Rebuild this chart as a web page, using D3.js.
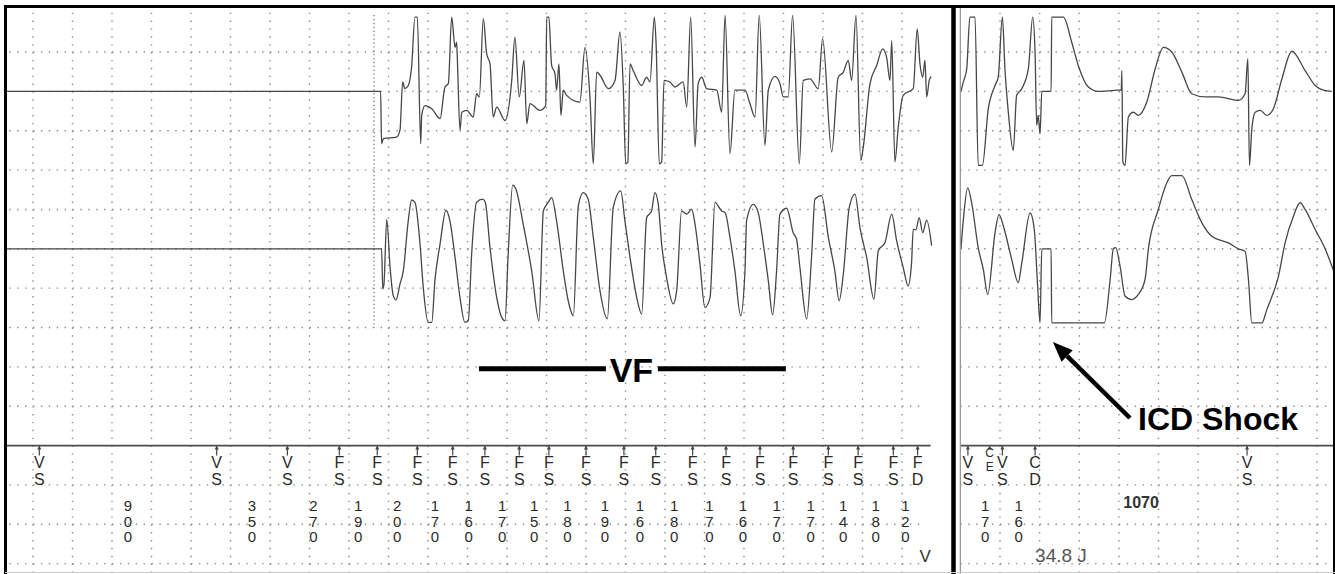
<!DOCTYPE html>
<html>
<head>
<meta charset="utf-8">
<script src="https://d3js.org/d3.v7.min.js"></script>
<style>
  body { margin: 0; background: #fff; }
  svg { display: block; }
  text { font-family: "Liberation Sans", Arial, sans-serif; }
</style>
</head>
<body>
<div id="strip"></div>
<script>
// ---- data: time in ms, amplitude in grid divisions (up = +) ----
var leftTop = [[-142,0],[1760,0],[1765,-1.33],[1774,-1.2],[1841,-1.16],[1858,-0.99],[1872,0.24],[1883,0.07],[1900,0.15],[1917,0.62],[1934,1.89],[1946,1.89],[1963,-1.33],[1968,-0.61],[1985,-0.36],[2019,-0.44],[2061,-0.69],[2086,0.11],[2103,0.2],[2120,1.89],[2137,1.12],[2145,1.25],[2148,0.91],[2162,-0.99],[2171,-0.53],[2196,-0.48],[2229,-0.65],[2246,-0.06],[2260,-0.14],[2280,1.85],[2297,0.96],[2314,0.7],[2330,-0.65],[2348,-0.4],[2390,-0.74],[2424,0.28],[2440,1.38],[2462,-0.14],[2486,0.79],[2500,-0.82],[2516,-0.31],[2567,-0.48],[2596,-0.36],[2601,1.89],[2612,1.89],[2626,0.66],[2643,0.45],[2651,0.03],[2663,0.7],[2673,-0.61],[2685,0.03],[2702,-0.1],[2769,-0.27],[2795,1.12],[2820,-0.14],[2837,-1.84],[2854,0.49],[2871,0.41],[2913,0.07],[2947,0.28],[2972,1.51],[2989,0.07],[3001,-1.84],[3012,-1.8],[3023,0.7],[3039,0.53],[3082,0.15],[3107,0.36],[3124,0.24],[3146,1.89],[3155,1.2],[3171,-1.84],[3183,-1.79],[3195,0.28],[3225,0.24],[3250,0.11],[3292,0.24],[3310,-0.4],[3330,1.89],[3352,-1.41],[3368,0.2],[3386,0.36],[3411,0.07],[3462,0.03],[3487,-0.53],[3504,1.93],[3529,-1.58],[3554,0.03],[3605,0.03],[3630,-0.31],[3656,-0.65],[3677,1.93],[3706,-1.37],[3723,0.03],[3757,0.38],[3782,0.2],[3799,-0.14],[3824,-0.14],[3846,1.93],[3880,-1.84],[3900,0.28],[3934,0.32],[3976,0.07],[3998,1.34],[4044,-1.54],[4077,0.36],[4103,0.49],[4128,0.79],[4145,0.28],[4167,1.93],[4191,-1.75],[4204,-1.41],[4238,0.2],[4272,0.66],[4302,1.08],[4322,0.87],[4339,0.28],[4348,1.29],[4364,-1.79],[4381,-0.91],[4406,-0.1],[4457,0.07],[4477,1.59],[4491,0.7],[4505,0.36],[4516,0.79],[4525,-0.14],[4538,0.28],[4547,0.38]];

var leftBottom = [[-142,0],[1765,0],[1771,-1.02],[1777,-0.9],[1791,0.75],[1808,-0.47],[1824,-1.19],[1838,-1.3],[1858,-0.9],[1875,-0.56],[1900,0.71],[1917,1.24],[1934,1.18],[1959,0.16],[1976,-0.98],[2001,-1.87],[2019,-1.87],[2035,-0.81],[2061,0.12],[2091,0.98],[2111,0.71],[2137,-0.22],[2162,-1.24],[2187,-1.87],[2204,-1.83],[2221,-0.13],[2246,1.18],[2277,1.26],[2290,1.18],[2314,0.03],[2348,-1.24],[2373,-1.74],[2390,-1.83],[2406,-0.13],[2429,1.62],[2445,1.52],[2482,0.63],[2525,-0.56],[2562,-1.83],[2584,0.96],[2609,1.18],[2626,1.3],[2651,0.71],[2685,-0.56],[2710,-1.32],[2736,-1.7],[2761,1.09],[2786,1.43],[2811,1.26],[2837,0.29],[2871,-1.07],[2908,-1.78],[2938,1.05],[2976,1.47],[2997,0.71],[3023,-0.22],[3057,-1.24],[3082,-1.66],[3107,0.79],[3132,0.96],[3149,1.43],[3166,1.13],[3183,0.12],[3208,-0.73],[3242,-1.4],[3259,-1.07],[3284,0.96],[3310,0.88],[3335,1.01],[3352,0.63],[3377,-0.39],[3402,-1.49],[3428,-1.24],[3453,1.18],[3487,0.96],[3504,0.92],[3529,0.29],[3554,-0.56],[3583,-1.7],[3605,-0.56],[3613,0.71],[3647,1.13],[3672,0.92],[3698,0.12],[3723,-0.81],[3745,-1.68],[3765,-0.56],[3782,0.88],[3816,1.03],[3849,0.41],[3866,0.25],[3883,-0.47],[3917,-1.78],[3943,-0.13],[3959,1.26],[3993,1.35],[4027,0.29],[4060,-0.56],[4082,-1.32],[4103,-0.64],[4133,1.05],[4162,1.39],[4187,0.54],[4221,-0.22],[4258,-1.28],[4280,-0.05],[4314,0.16],[4348,0.88],[4373,0.2],[4406,-0.47],[4431,-0.94],[4448,-0.39],[4457,0.5],[4470,0.48],[4487,0.79],[4505,0.41],[4525,0.73],[4550,0.08]];

var rightTop = [[-197,0],[-185,0.24],[-168,0.57],[-152,1.89],[-126,1.89],[-110,-1.88],[-89,-1.88],[-59,-0.44],[-25,0.15],[-9,0.36],[12,1.89],[25,0.57],[42,-0.53],[67,-1.5],[84,-0.1],[110,0.07],[143,0.57],[165,1.89],[177,1.0],[185,-0.86],[193,-0.61],[202,-1.08],[211,0],[258,0],[261,1.89],[320,1.89],[362,1.25],[395,0.66],[446,0.11],[496,0],[597,0.03],[612,0.03],[615,0.53],[620,-1.79],[631,-1.88],[648,-0.65],[673,-0.53],[698,-0.61],[741,-0.27],[783,0.57],[825,1.12],[867,1.0],[918,0.49],[968,-0.06],[1035,-0.14],[1102,-0.14],[1203,-0.23],[1237,-0.06],[1251,0.83],[1259,-1.88],[1271,-0.95],[1288,-0.53],[1313,-0.48],[1347,-0.61],[1380,-0.44],[1423,0.32],[1473,1.02],[1540,0.53],[1591,0.15],[1633,0.03],[1675,0]];

var rightBottom = [[-197,0],[-185,0.74],[-163,1.55],[-143,1.17],[-110,0.03],[-84,-0.53],[-62,-1.16],[-25,0.41],[-5,0.87],[17,0.58],[59,-0.27],[92,-0.86],[110,-0.36],[152,0.91],[173,0.49],[190,-0.95],[202,-1.88],[211,0],[258,0],[261,-1.88],[527,-1.88],[556,-0.78],[572,0],[584,0.03],[606,-0.44],[631,-1.2],[665,-1.29],[698,-1.16],[732,-0.78],[749,0],[799,1.0],[842,1.68],[867,1.86],[918,1.86],[968,1.25],[1019,0.66],[1069,0.32],[1153,0.15],[1203,0],[1237,-0.06],[1254,-0.78],[1271,-1.88],[1322,-1.88],[1347,-1.54],[1406,-0.69],[1439,0.15],[1481,0.83],[1515,1.17],[1540,1.0],[1591,0.49],[1641,0],[1683,-0.55]];

// marker channel
var leftMarkerMs = [32, 930, 1288, 1551, 1743, 1946, 2125, 2288, 2462, 2612, 2800, 2992, 3153, 3340, 3509, 3681, 3849, 4027, 4178, 4356, 4479];
var leftMarkerCodes = ["VS","VS","VS","FS","FS","FS","FS","FS","FS","FS","FS","FS","FS","FS","FS","FS","FS","FS","FS","FS","FD"];
var leftIntervals = [900, 350, 270, 190, 200, 170, 160, 170, 150, 180, 190, 160, 180, 170, 160, 170, 170, 140, 180, 120];

var rightMarkerMs = [-162, -52, 12, 177, 1247];
var rightMarkerCodes = ["VS","CE","VS","CD","VS"];
// [from marker, to marker, value]
var rightIntervals = [[0, 2, "170"], [2, 3, "160"], [3, 4, "1070"]];

var detectMs = 1727;
var shockEnergy = "34.8 J";

// ---- layout ----
var width = 1335, height = 574;
var svg = d3.select("#strip").append("svg")
    .attr("width", width)
    .attr("height", height);

// paper rows: channel baselines on row 2 and 6, marker line on row 11
var paperY = d3.scaleLinear().domain([0, 14]).range([12.7, 12.7 + 14 * 39.35]);
var xLeft = d3.scaleLinear().domain([0, 4400]).range([33, 902]);
var xRight = d3.scaleLinear().domain([0, 1600]).range([1000, 1317]);
var topBase = 2, bottomBase = 6, markerRow = 11;

var dotColor = "#8c8c8c";

function drawGrid(x, t0, t1, ticks) {
    var g = svg.append("g").attr("class", "grid");
    var rowStep = (paperY(1) - paperY(0)) / 5;
    var colStep = (x(200) - x(0)) / 5;

    g.selectAll("line.v").data(ticks).enter().append("line")
        .attr("x1", d => x(d)).attr("x2", d => x(d))
        .attr("y1", paperY(0)).attr("y2", height)
        .style("stroke", dotColor)
        .style("stroke-width", 1.4)
        .style("stroke-dasharray", "1.4," + (rowStep - 1.4));

    var rows = d3.range(1, 15).filter(r => r != markerRow);
    g.selectAll("line.h").data(rows).enter().append("line")
        .attr("x1", x(t0)).attr("x2", x(t1))
        .attr("y1", d => paperY(d)).attr("y2", d => paperY(d))
        .style("stroke", dotColor)
        .style("stroke-width", 1.4)
        .style("stroke-dasharray", "1.4," + (colStep - 1.4));
}

drawGrid(xLeft, -120, 4520, d3.range(0, 4401, 200));
drawGrid(xRight, -200, 1680, d3.range(0, 1601, 200));

// detection marker (dense dots) at VF onset
svg.append("line")
    .attr("x1", xLeft(detectMs)).attr("x2", xLeft(detectMs))
    .attr("y1", paperY(0.06)).attr("y2", paperY(8))
    .style("stroke", "#777").style("stroke-width", 1.3)
    .style("stroke-dasharray", "1.3,2.6");

// ---- traces ----
function drawTrace(data, x, base) {
    var line = d3.line()
        .curve(d3.curveMonotoneX)
        .x(d => x(d[0]))
        .y(d => paperY(base - d[1]));
    svg.append("path")
        .datum(data)
        .attr("d", line)
        .style("fill", "none")
        .style("stroke", "#474747")
        .style("stroke-width", 1.3)
        .style("stroke-linejoin", "round");
}

drawTrace(leftTop, xLeft, topBase);
drawTrace(leftBottom, xLeft, bottomBase);
drawTrace(rightTop, xRight, topBase);
drawTrace(rightBottom, xRight, bottomBase);

// ---- marker channel ----
var my = paperY(markerRow);
svg.append("line").attr("x1", 5).attr("x2", xLeft(4545))
    .attr("y1", my).attr("y2", my)
    .style("stroke", "#4d4d4d").style("stroke-width", 1.7);
svg.append("line").attr("x1", xRight(-200)).attr("x2", width)
    .attr("y1", my).attr("y2", my)
    .style("stroke", "#4d4d4d").style("stroke-width", 1.7);

function drawMarkers(x, ms, codes) {
    var g = svg.append("g").attr("class", "markers");
    var m = g.selectAll("g").data(ms).enter().append("g")
        .attr("transform", d => "translate(" + x(d) + "," + my + ")");

    m.append("line")
        .attr("y1", 1).attr("y2", (d, i) => codes[i] == "CE" ? 3 : 10)
        .style("stroke", "#444").style("stroke-width", 1.2);
    m.append("path")
        .attr("d", "M-2,4L0,0L2,4Z")
        .style("fill", "#444");

    // CE is squeezed in just above the next VS
    var size = (d, i) => codes[i] == "CE" ? "12px" : "16px";
    m.append("text")
        .attr("text-anchor", "middle")
        .attr("y", (d, i) => codes[i] == "CE" ? 11 : 22)
        .style("font-size", size).style("fill", "#2b2b2b")
        .text((d, i) => codes[i][0]);
    m.append("text")
        .attr("text-anchor", "middle")
        .attr("y", (d, i) => codes[i] == "CE" ? 25 : 39)
        .style("font-size", size).style("fill", "#2b2b2b")
        .text((d, i) => codes[i][1]);
}

function drawIntervalDigits(xc, label, size) {
    var chars = String(label).split("");
    svg.append("g").selectAll("text").data(chars).enter().append("text")
        .attr("x", xc)
        .attr("y", (d, i) => 511 + i * 15.5)
        .attr("text-anchor", "middle")
        .style("font-size", size).style("fill", "#2b2b2b")
        .text(d => d);
}

drawMarkers(xLeft, leftMarkerMs, leftMarkerCodes);
drawMarkers(xRight, rightMarkerMs, rightMarkerCodes);

leftIntervals.forEach((v, i) => {
    var mid = (leftMarkerMs[i] + leftMarkerMs[i + 1]) / 2;
    drawIntervalDigits(xLeft(mid), v, "15px");
});

rightIntervals.forEach(d => {
    var mid = (rightMarkerMs[d[0]] + rightMarkerMs[d[1]]) / 2;
    if (d[2].length > 3) {
        svg.append("text").attr("x", xRight(mid)).attr("y", 508)
            .attr("text-anchor", "middle")
            .style("font-size", "16px").style("font-weight", "bold").style("fill", "#333")
            .text(d[2]);
    } else {
        drawIntervalDigits(xRight(mid), d[2], "15px");
    }
});

svg.append("text").attr("x", xLeft(4517)).attr("y", 562)
    .attr("text-anchor", "middle")
    .style("font-size", "17px").style("fill", "#333")
    .text("V");

svg.append("text").attr("x", xRight(rightMarkerMs[3])).attr("y", 562)
    .style("font-size", "19px").style("fill", "#555")
    .text(shockEnergy);

// ---- annotations ----
var vfY = paperY(9.05);
[[2258, 2901], [3164, 3812]].forEach(s => {
    svg.append("line")
        .attr("x1", xLeft(s[0])).attr("x2", xLeft(s[1]))
        .attr("y1", vfY).attr("y2", vfY)
        .style("stroke", "#000").style("stroke-width", 5);
});
svg.append("text").attr("x", xLeft(3030)).attr("y", vfY + 13)
    .attr("text-anchor", "middle")
    .style("font-size", "34px").style("font-weight", "bold")
    .text("VF");

// arrow pointing at the shock
var tail = [xRight(656), 418], tip = [xRight(267), 342];
var ang = Math.atan2(tip[1] - tail[1], tip[0] - tail[0]);
var headLen = 20, headW = 8;
var bx = tip[0] - headLen * Math.cos(ang), by = tip[1] - headLen * Math.sin(ang);
svg.append("line")
    .attr("x1", tail[0]).attr("y1", tail[1]).attr("x2", bx).attr("y2", by)
    .style("stroke", "#000").style("stroke-width", 4.5);
svg.append("path")
    .attr("d", "M" + tip[0] + "," + tip[1] +
        "L" + (bx + headW * Math.sin(ang)) + "," + (by - headW * Math.cos(ang)) +
        "L" + (bx - headW * Math.sin(ang)) + "," + (by + headW * Math.cos(ang)) + "Z")
    .style("fill", "#000");
svg.append("text").attr("x", 1138).attr("y", 430)
    .style("font-size", "32px").style("font-weight", "bold")
    .text("ICD Shock");

// ---- frame ----
var frame = svg.append("g");
frame.append("line").attr("x1", 4).attr("x2", width).attr("y1", 6.5).attr("y2", 6.5)
    .style("stroke", "#000").style("stroke-width", 3);
frame.append("line").attr("x1", 5.5).attr("x2", 5.5).attr("y1", 5).attr("y2", height)
    .style("stroke", "#000").style("stroke-width", 3);
frame.append("line").attr("x1", 953.5).attr("x2", 953.5).attr("y1", 5).attr("y2", height)
    .style("stroke", "#000").style("stroke-width", 4.5);
frame.append("line").attr("x1", xRight(-200)).attr("x2", xRight(-200)).attr("y1", 8).attr("y2", height)
    .style("stroke", "#999").style("stroke-width", 1.3);
frame.append("line").attr("x1", width - 1).attr("x2", width - 1).attr("y1", 5).attr("y2", height)
    .style("stroke", "#000").style("stroke-width", 2);
frame.append("line").attr("x1", 5).attr("x2", width).attr("y1", 572.5).attr("y2", 572.5)
    .style("stroke", "#ccc").style("stroke-width", 1);
</script>
</body>
</html>
